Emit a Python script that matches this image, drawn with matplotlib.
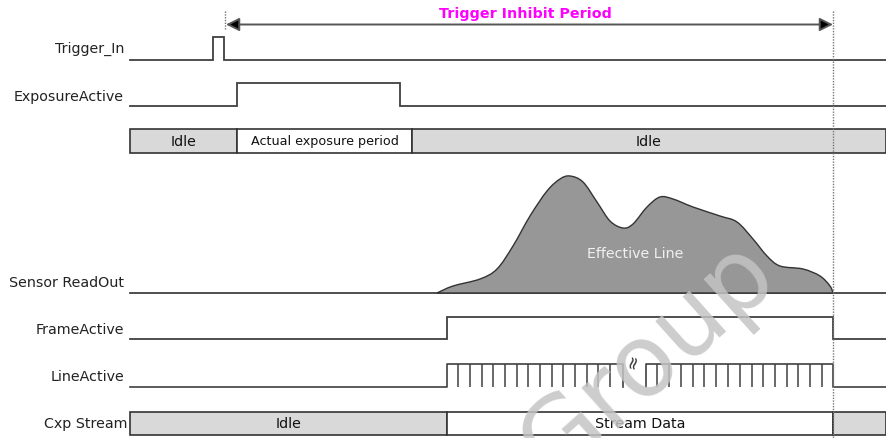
import matplotlib
matplotlib.use("Agg")
import matplotlib.pyplot as plt
from matplotlib.patches import Rectangle, PathPatch
from matplotlib.path import Path

# 시간축은 그림의 픽셀 x 좌표 그대로 사용
t_start, t_end = 130, 886
trigger_edges = [213, 224]
exposure_edges = [237, 400]
frame_edges = [447, 833]
inhibit_span = [226, 833]

# 상태 막대 (경계, 라벨)
state_bounds = [130, 237, 412, 886]
state_labels = ["Idle", "Actual exposure period", "Idle"]
state_fill = [True, False, True]
cxp_bounds = [130, 447, 833, 886]
cxp_labels = ["Idle", "Stream Data", ""]
cxp_fill = [True, False, True]

# LineActive 펄스 (중간 생략 구간 포함)
line_seg_a = [447, 623]
line_seg_b = [646, 833]
line_ticks_a = [458, 470, 482, 493, 505, 517, 528, 540, 552, 563, 575, 587, 598, 610]
line_ticks_b = [657, 669, 681, 693, 704, 716, 728, 740, 752, 763, 775, 787, 798, 810, 822]

# Sensor ReadOut 곡선 (그림에서 읽은 윤곽)
readout_x = [437, 453, 480, 497, 513, 530, 547, 560, 570, 583, 597, 610, 623, 633,
             647, 660, 673, 693, 720, 737, 753, 767, 780, 803, 820, 830, 833]
readout_y = [294, 287, 280, 270, 247, 217, 192, 180, 177, 183, 203, 222, 229, 225,
             208, 198, 200, 208, 217, 223, 240, 257, 267, 270, 277, 287, 294]

row_labels = ["Trigger_In", "ExposureActive", "Sensor ReadOut", "FrameActive", "LineActive", "Cxp Stream"]
row_label_y = [49, 97, 283, 330, 377, 424]

LINE = "#404040"
GRAY = "#d9d9d9"
FONT = "DejaVu Sans"

fig = plt.figure(figsize=(8.86, 4.39), dpi=100)
ax = fig.add_axes([0, 0, 1, 1])
ax.set_xlim(0, 886)
ax.set_ylim(439, 0)
ax.axis("off")


def step_signal(edges, low, high):
    # 에지 목록으로 계단 신호 그리기
    xs, ys = [t_start], [low]
    level = low
    for e in edges:
        xs += [e, e]
        nxt = high if level == low else low
        ys += [level, nxt]
        level = nxt
    xs.append(t_end)
    ys.append(level)
    ax.plot(xs, ys, color=LINE, lw=1.3, solid_joinstyle="miter")


step_signal(trigger_edges, 61, 38)
step_signal(exposure_edges, 107, 84)
step_signal(frame_edges, 340, 318)


def state_bar(bounds, labels, fills, y0, y1, sizes):
    for i in range(len(labels)):
        x0, x1 = bounds[i], bounds[i + 1]
        ax.add_patch(Rectangle((x0, y0), x1 - x0, y1 - y0,
                               facecolor=GRAY if fills[i] else "white",
                               edgecolor="#333333", lw=1.2, zorder=2))
        if labels[i]:
            ax.text((x0 + x1) / 2, (y0 + y1) / 2, labels[i], ha="center", va="center",
                    fontsize=sizes[i], family=FONT, color="#111111", zorder=3)


state_bar(state_bounds, state_labels, state_fill, 130, 154, [10.3, 9.2, 10.3])
state_bar(cxp_bounds, cxp_labels, cxp_fill, 413, 436, [10.3, 10.3, 10.3])


def smooth_path(xs, ys):
    # Catmull-Rom -> 베지어로 부드럽게
    pts = list(zip(xs, ys))
    verts = [pts[0]]
    codes = [Path.MOVETO]
    n = len(pts)
    for i in range(n - 1):
        p0 = pts[max(i - 1, 0)]
        p1 = pts[i]
        p2 = pts[i + 1]
        p3 = pts[min(i + 2, n - 1)]
        c1 = (p1[0] + (p2[0] - p0[0]) / 6, p1[1] + (p2[1] - p0[1]) / 6)
        c2 = (p2[0] - (p3[0] - p1[0]) / 6, p2[1] - (p3[1] - p1[1]) / 6)
        verts += [c1, c2, p2]
        codes += [Path.CURVE4] * 3
    verts.append(pts[0])
    codes.append(Path.CLOSEPOLY)
    return Path(verts, codes)


# Sensor ReadOut
ax.plot([t_start, t_end], [294, 294], color=LINE, lw=1.3, zorder=2)
ax.add_patch(PathPatch(smooth_path(readout_x, readout_y), facecolor="#979797",
                       edgecolor="#333333", lw=1.0, zorder=3))
ax.text(635, 254, "Effective Line", ha="center", va="center", fontsize=10.3,
        family=FONT, color="#f0f0f0", zorder=4)

# LineActive
lo, hi = 388, 365
ax.plot([t_start, line_seg_a[0], line_seg_a[0], line_seg_a[1], line_seg_a[1]],
        [lo, lo, hi, hi, lo], color=LINE, lw=1.2)
ax.plot([line_seg_b[0], line_seg_b[0], line_seg_b[1], line_seg_b[1], t_end],
        [lo, hi, hi, lo, lo], color=LINE, lw=1.2)
ax.vlines(line_ticks_a + line_ticks_b, hi, lo, color=LINE, lw=1.1)
ax.text((line_seg_a[1] + line_seg_b[0]) / 2 - 1, 362, "≈", rotation=75, ha="center",
        va="center", fontsize=13, family=FONT, color="#333333")

# 트리거 금지 구간 화살표와 점선
ax.vlines([inhibit_span[0] - 1], 12, 30, color="#777777", lw=1.0, linestyles=(0, (1, 1)))
ax.vlines([inhibit_span[1]], 12, 439, color="#777777", lw=1.0, linestyles=(0, (1, 1)), zorder=5)
ax.annotate("", xy=(inhibit_span[0], 25.5), xytext=(inhibit_span[1], 25.5),
            arrowprops=dict(arrowstyle="<|-|>", fc="black", ec="#555555", lw=1.4,
                            mutation_scale=20, shrinkA=0, shrinkB=0))
ax.text(525, 14, "Trigger Inhibit Period", ha="center", va="center", fontsize=10.3,
        fontweight="bold", family=FONT, color="#ff00ff")

# 행 이름
for name, y in zip(row_labels, row_label_y):
    xr = 128 if name == "Cxp Stream" else 124
    ax.text(xr, y, name, ha="right", va="center", fontsize=10.3, family=FONT, color="#222222")

# 워터마크 (원본처럼 아래쪽이 잘림)
ax.text(648, 360, "Group", rotation=42, ha="center", va="center", fontsize=72,
        family=FONT, color="#c4c4c4", alpha=0.85, zorder=6)

fig.savefig("out.png", dpi=100)
